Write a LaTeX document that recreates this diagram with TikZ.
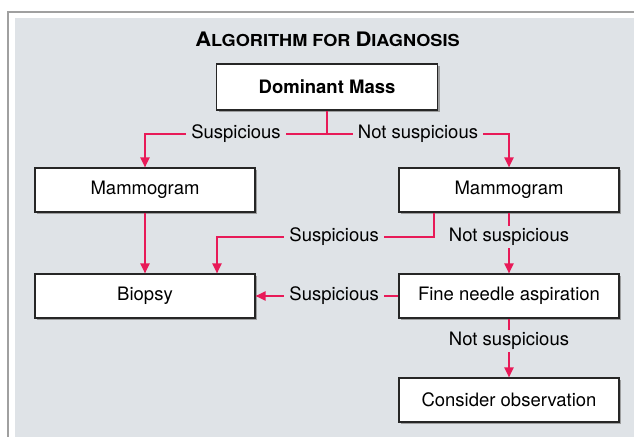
\documentclass[tikz,border=0pt]{standalone}
\usepackage{fontspec}
\setmainfont{TeX Gyre Heros}
\usetikzlibrary{arrows.meta}
\usetikzlibrary{shadows}

\definecolor{panel}{RGB}{223,227,231}
\definecolor{flowred}{RGB}{232,26,88}
\definecolor{framegray}{RGB}{160,160,160}

\tikzset{
  box/.style={draw=black!85, line width=1.1bp, fill=white,
    minimum width=220bp, minimum height=44bp, inner sep=0pt,
    font=\fontsize{18.5bp}{20bp}\selectfont,
    drop shadow={shadow xshift=2bp, shadow yshift=-2bp, fill=black!45, opacity=.8}},
  flow/.style={draw=flowred, line width=2bp, -{Triangle[length=10bp,width=9bp]}},
  lbl/.style={fill=panel, inner xsep=5bp, inner ysep=2bp,
    font=\fontsize{18.5bp}{20bp}\selectfont}
}

\begin{document}
\begin{tikzpicture}[x=1bp, y=-1bp]
      \useasboundingbox (0,0) rectangle (634,437);
      % frame and panel
      \fill[white] (0,0) rectangle (634,437);
      \draw[framegray, line width=1.5bp] (8,437) -- (8,12) -- (634,12);
      \fill[panel] (15,18) rectangle (634,437);
      % title
      \node[anchor=base] (title) at (327.5,47) {\scalebox{1.1}[1]{\bfseries
            \fontsize{20bp}{20bp}\selectfont A\fontsize{16.5bp}{16bp}\selectfont LGORITHM FOR
            \fontsize{20bp}{20bp}\selectfont D\fontsize{16.5bp}{16bp}\selectfont IAGNOSIS}};
      % boxes
      \node[box, minimum width=221bp, minimum height=46bp, font=\fontsize{18.5bp}{20bp}\selectfont\bfseries]
            (mass) at (327,87) {Dominant Mass};
      \node[box] (mamL) at (145,190) {Mammogram};
      \node[box] (mamR) at (509,190) {Mammogram};
      \node[box] (biopsy) at (145,296) {Biopsy};
      \node[box] (fna) at (509,296) {Fine needle aspiration};
      \node[box] (obs) at (509,400) {Consider observation};
      % helper points
      \coordinate (fork) at (327,134);
      \coordinate (row) at (0,237);
      \coordinate (rightdrop) at ([xshift=-75bp]mamR.south);
      \coordinate (leftdrop) at ([xshift=72bp]biopsy.north);
      % arrows
      \draw[flow] (mass.south) -- (fork) -- node[lbl] (s1) {Suspicious} (fork -| mamL.north) -- (mamL.north);
      \draw[flow] (fork) -- node[lbl] (n1) {Not suspicious} (fork -| mamR.north) -- (mamR.north);
      \draw[flow] (mamL) -- (biopsy);
      \draw[flow] (rightdrop) -- (rightdrop |- row) -- node[lbl, pos=0.46] (s2) {Suspicious} (leftdrop |- row) -- (leftdrop);
      \draw[flow] (mamR) -- node[lbl, pos=0.4] (n2) {Not suspicious} (fna);
      \draw[flow] (fna) -- node[lbl, pos=0.45] (s3) {Suspicious} (biopsy);
      \draw[flow] (fna) -- node[lbl, pos=0.38] (n3) {Not suspicious} (obs);
\end{tikzpicture}
\end{document}
